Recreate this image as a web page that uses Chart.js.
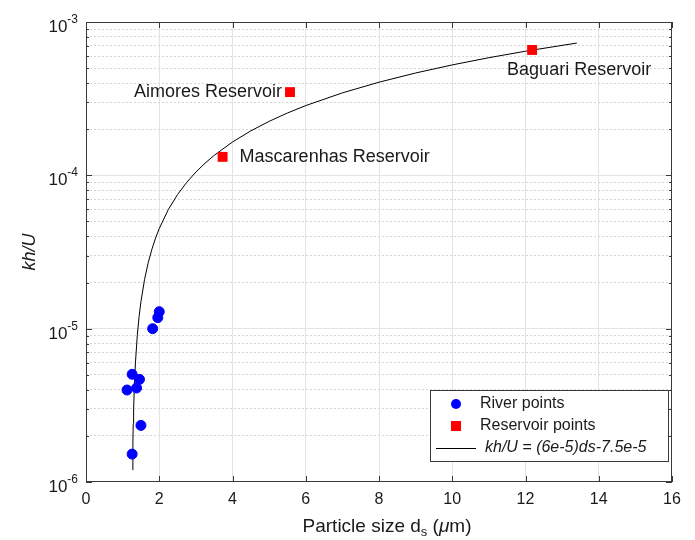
<!DOCTYPE html>
<html>
<head>
<meta charset="utf-8">
<script src="https://cdn.jsdelivr.net/npm/chart.js@4.4.0/dist/chart.umd.min.js"></script>
<style>
  html, body { margin: 0; padding: 0; background: #fff; }
  #wrap { width: 695px; height: 540px; }
</style>
</head>
<body>
<div id="wrap"><canvas id="chart" width="695" height="540"></canvas></div>
<script>
const riverDs = [1.26, 1.50, 1.12, 1.38, 1.26, 1.46, 1.82, 1.96, 2.00];
const riverKhU = [1.52e-6, 2.34e-6, 3.98e-6, 4.1e-6, 5.04e-6, 4.67e-6, 1.0e-5, 1.18e-5, 1.29e-5];

// Reservoir measurements
const reservoirNames = ['Aimores Reservoir', 'Mascarenhas Reservoir', 'Baguari Reservoir'];
const reservoirDs = [5.57, 3.73, 12.18];
const reservoirKhU = [3.49e-4, 1.32e-4, 6.57e-4];

// Fitted curve, points
const fitDs = [1.27, 1.28, 1.29, 1.3, 1.32, 1.35, 1.4, 1.45, 1.5, 1.6, 1.7, 1.8, 1.9, 2, 2.25, 2.5, 2.75, 3, 3.25, 3.5, 4, 4.5, 5, 5.5, 6, 7, 8, 9, 10, 11, 12, 13.4];
const fitKhU = [1.2e-6, 1.8e-6, 2.4e-6, 3.0e-6, 4.2e-6, 6.0e-6, 9.0e-6, 1.2e-5, 1.5e-5, 2.1e-5, 2.7e-5, 3.3e-5, 3.9e-5, 4.5e-5, 6.0e-5, 7.5e-5, 9.0e-5, 1.05e-4, 1.2e-4, 1.35e-4, 1.65e-4, 1.95e-4, 2.25e-4, 2.55e-4, 2.85e-4, 3.45e-4, 4.05e-4, 4.65e-4, 5.25e-4, 5.85e-4, 6.45e-4, 7.29e-4];

// Axis ticks
const xTicks = [0, 2, 4, 6, 8, 10, 12, 14, 16];
const yDecades = [-6, -5, -4, -3];
const yMinor = [1, 2, 3, 4, 5, 6, 7, 8, 9];

const FONT = "'Liberation Sans', Arial, sans-serif";
const TEXT = '#1a1a1a';

function toPoints(xs, ys) {
    return xs.map((v, i) => ({ x: v, y: ys[i] }));
}

function isDecade(v) {
    const l = Math.log10(v);
    return Math.abs(l - Math.round(l)) < 1e-6;
}

// Frame, inner ticks, superscript labels, titles, annotations and legend
const decorations = {
    id: 'decorations',
    afterDatasetsDraw(chart) {
        const { ctx, scales: { x, y } } = chart;
        ctx.save();
        ctx.fillStyle = TEXT;
        ctx.font = `18px ${FONT}`;
        ctx.textBaseline = 'middle';
        const [aim, mas, bag] = reservoirNames;
        ctx.textAlign = 'right';
        ctx.fillText(aim, x.getPixelForValue(reservoirDs[0]) - 8, y.getPixelForValue(reservoirKhU[0]));
        ctx.textAlign = 'left';
        ctx.fillText(mas, x.getPixelForValue(reservoirDs[1]) + 17, y.getPixelForValue(reservoirKhU[1]));
        ctx.fillText(bag, x.getPixelForValue(reservoirDs[2]) - 25, y.getPixelForValue(reservoirKhU[2]) + 20);
        ctx.restore();
    },
    afterDraw(chart) {
        const { ctx, chartArea: a, scales: { x, y } } = chart;
        ctx.save();

        // frame
        ctx.strokeStyle = '#3a3a3a';
        ctx.lineWidth = 1;
        ctx.strokeRect(a.left + 0.5, a.top + 0.5, a.right - a.left - 1, a.bottom - a.top - 1);

        // inner ticks
        ctx.beginPath();
        xTicks.forEach(v => {
            const px = Math.round(x.getPixelForValue(v)) + 0.5;
            ctx.moveTo(px, a.bottom); ctx.lineTo(px, a.bottom - 6);
            ctx.moveTo(px, a.top); ctx.lineTo(px, a.top + 6);
        });
        y.ticks.forEach(t => {
            const py = Math.round(y.getPixelForValue(t.value)) + 0.5;
            const len = isDecade(t.value) ? 6 : 3;
            ctx.moveTo(a.left, py); ctx.lineTo(a.left + len, py);
            ctx.moveTo(a.right, py); ctx.lineTo(a.right - len, py);
        });
        ctx.stroke();

        // y tick labels 10^n
        ctx.fillStyle = TEXT;
        ctx.textBaseline = 'alphabetic';
        yDecades.forEach(d => {
            const py = y.getPixelForValue(Math.pow(10, d));
            const sup = String(d);
            ctx.font = `12px ${FONT}`;
            const sw = ctx.measureText(sup).width;
            const right = a.left - 8;
            ctx.textAlign = 'left';
            ctx.fillText(sup, right - sw, py + 1);
            ctx.font = `17px ${FONT}`;
            ctx.textAlign = 'right';
            ctx.fillText('10', right - sw, py + 10);
        });

        // y title
        ctx.save();
        ctx.translate(30, (a.top + a.bottom) / 2);
        ctx.rotate(-Math.PI / 2);
        ctx.font = `italic 18px ${FONT}`;
        ctx.textAlign = 'center';
        ctx.textBaseline = 'middle';
        ctx.fillText('kh/U', 0, 0);
        ctx.restore();

        // x title with subscript
        const parts = [
            { t: 'Particle size d', f: `19px ${FONT}`, dy: 0 },
            { t: 's', f: `13px ${FONT}`, dy: 4 },
            { t: ' (', f: `19px ${FONT}`, dy: 0 },
            { t: 'μ', f: `italic 19px ${FONT}`, dy: 0 },
            { t: 'm)', f: `19px ${FONT}`, dy: 0 }
        ];
        let total = 0;
        parts.forEach(p => { ctx.font = p.f; p.w = ctx.measureText(p.t).width; total += p.w; });
        let cx = (a.left + a.right) / 2 + 8 - total / 2;
        ctx.textAlign = 'left';
        parts.forEach(p => {
            ctx.font = p.f;
            ctx.fillText(p.t, cx, 532 + p.dy);
            cx += p.w;
        });

        // legend
        const lx = 430, ly = 390, lw = 238, lh = 71;
        ctx.fillStyle = '#fff';
        ctx.fillRect(lx, ly, lw, lh);
        ctx.strokeStyle = '#3a3a3a';
        ctx.strokeRect(lx + 0.5, ly + 0.5, lw, lh);
        const rows = [ly + 14, ly + 36, ly + 58];
        ctx.fillStyle = '#0000ff';
        ctx.beginPath();
        ctx.arc(456, rows[0], 5, 0, Math.PI * 2);
        ctx.fill();
        ctx.fillStyle = '#ff0000';
        ctx.fillRect(451, rows[1] - 5, 10, 10);
        ctx.strokeStyle = '#000';
        ctx.beginPath();
        ctx.moveTo(436, rows[2] + 0.5); ctx.lineTo(476, rows[2] + 0.5);
        ctx.stroke();
        ctx.fillStyle = TEXT;
        ctx.textBaseline = 'middle';
        ctx.font = `16px ${FONT}`;
        ctx.fillText('River points', 480, rows[0]);
        ctx.fillText('Reservoir points', 480, rows[1]);
        ctx.font = `italic 16px ${FONT}`;
        ctx.fillText('kh/U = (6e-5)ds-7.5e-5', 485, rows[2]);

        ctx.restore();
    }
};

const chart = new Chart(document.getElementById('chart'), {
    type: 'scatter',
    data: {
        datasets: [
            {
                label: 'kh/U = (6e-5)ds-7.5e-5',
                data: toPoints(fitDs, fitKhU),
                showLine: true,
                borderColor: '#000',
                borderWidth: 1,
                pointRadius: 0,
                tension: 0,
                order: 3
            },
            {
                label: 'River points',
                data: toPoints(riverDs, riverKhU),
                backgroundColor: '#0000ff',
                borderColor: '#0000ff',
                pointRadius: 5,
                pointStyle: 'circle',
                order: 1
            },
            {
                label: 'Reservoir points',
                data: toPoints(reservoirDs, reservoirKhU),
                backgroundColor: '#ff0000',
                borderColor: '#ff0000',
                borderWidth: 0,
                pointRadius: 7,
                pointStyle: 'rect',
                order: 2
            }
        ]
    },
    options: {
        responsive: false,
        animation: false,
        devicePixelRatio: 1,
        layout: { padding: { left: 0, right: 23, top: 22, bottom: 0 } },
        plugins: {
            legend: { display: false },
            tooltip: { enabled: false }
        },
        scales: {
            x: {
                type: 'linear',
                min: 0,
                max: 16,
                afterBuildTicks: s => { s.ticks = xTicks.map(v => ({ value: v })); },
                afterFit: s => { s.height = 58; },
                grid: {
                    color: ctx => (ctx.tick && (ctx.tick.value === 0 || ctx.tick.value === 16)) ? 'rgba(0,0,0,0)' : '#e3e3e3',
                    lineWidth: 1,
                    drawTicks: false
                },
                border: { display: false },
                ticks: {
                    color: TEXT,
                    font: { family: FONT, size: 16 },
                    padding: 8
                }
            },
            y: {
                type: 'logarithmic',
                min: 1e-6,
                max: 1e-3,
                afterBuildTicks: s => {
                    const ticks = [];
                    yDecades.slice(0, -1).forEach(d => {
                        yMinor.forEach(m => ticks.push({ value: m * Math.pow(10, d) }));
                    });
                    ticks.push({ value: Math.pow(10, yDecades[yDecades.length - 1]) });
                    s.ticks = ticks;
                },
                afterFit: s => { s.width = 86; },
                grid: {
                    color: ctx => {
                        if (!ctx.tick) return '#e3e3e3';
                        const v = ctx.tick.value;
                        if (v <= 1e-6 * 1.0001 || v >= 1e-3 * 0.9999) return 'rgba(0,0,0,0)';
                        return isDecade(v) ? '#e3e3e3' : '#d6d6d6';
                    },
                    lineWidth: 1,
                    drawTicks: false
                },
                border: {
                    display: false,
                    dash: ctx => (ctx.tick && isDecade(ctx.tick.value)) ? [] : [2, 2]
                },
                ticks: {
                    callback: () => '',
                    autoSkip: false
                }
            }
        }
    },
    plugins: [decorations]
});
</script>
</body>
</html>
